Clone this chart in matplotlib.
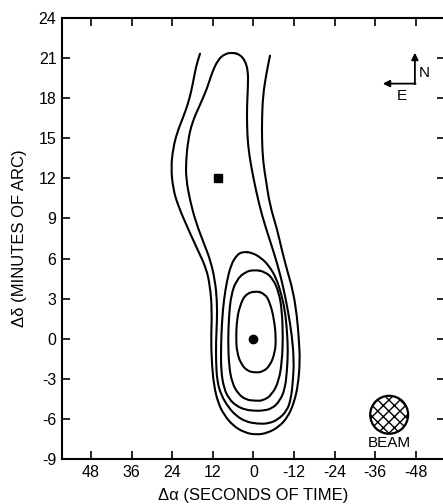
import numpy as np
import matplotlib
matplotlib.use('Agg')
from matplotlib import pyplot as plt
from matplotlib.patches import Ellipse, PathPatch
from matplotlib.path import Path

plt.rcParams['font.family'] = ['Liberation Sans', 'DejaVu Sans']
plt.rcParams['axes.unicode_minus'] = False
plt.rcParams['hatch.linewidth'] = 1.0

# contour lines traced from the map, (delta alpha [s], delta delta [arcmin])
# outermost contour, open at the top
c1_x = [15.81, 17.00, 17.87, 19.05, 20.83, 22.60, 23.78, 24.37, 23.78, 22.30,
        19.35, 16.40, 14.03, 12.85, 12.26, 12.56, 12.26, 11.67, 10.49, 8.71,
        6.06, 2.51, -1.03, -4.28, -7.53, -10.19, -11.96, -13.15, -13.74, -13.44,
        -12.85, -11.67, -9.90, -8.42, -6.94, -4.87, -3.69, -2.81, -2.51, -2.51,
        -2.81, -3.69, -4.87]
c1_y = [21.33, 20.36, 19.16, 17.81, 16.54, 15.42, 14.22, 12.80, 11.23, 9.96,
        8.23, 6.59, 5.31, 3.97, 2.10, -0.15, -2.02, -3.52, -4.79, -5.69,
        -6.51, -7.04, -7.19, -7.04, -6.59, -5.84, -4.79, -3.52, -1.65, -0.15,
        1.72, 3.59, 5.16, 6.59, 8.23, 9.96, 11.83, 13.32, 14.82, 16.54,
        18.19, 19.69, 21.18]

c2_x = [6.06, 3.99, 2.51, 1.62, 1.62, 1.92, 1.92, 1.62, 0.74, -0.74,
        -2.51, -4.87, -6.94, -8.71, -10.19, -11.37, -11.96, -11.67, -11.08, -9.90,
        -7.24, -4.28, -1.03, 2.22, 5.17, 7.53, 9.60, 10.78, 11.08, 11.08,
        10.78, 10.78, 11.37, 12.70, 14.62, 16.99, 18.76, 19.94, 19.94, 19.35,
        18.17, 15.81, 13.74, 12.26, 10.49, 8.42]
c2_y = [21.41, 21.26, 20.81, 20.06, 18.94, 17.44, 15.94, 14.45, 12.95, 11.08,
        9.21, 7.34, 5.69, 3.97, 2.10, 0.22, -1.65, -3.14, -4.49, -5.39,
        -6.06, -6.36, -6.36, -6.21, -5.76, -5.09, -4.19, -3.14, -1.65, -0.15,
        1.35, 2.84, 4.34, 5.84, 7.11, 8.68, 10.33, 11.98, 13.32, 14.82,
        16.17, 17.51, 18.71, 19.91, 20.88, 21.33]

c3_x = [3.10, 0.44, -2.22, -4.58, -6.65, -8.12, -9.31, -9.90, -10.19, -9.90,
        -9.31, -7.83, -5.47, -2.51, -0.15, 2.51, 5.17, 7.24, 8.71, 9.60,
        9.60, 9.31, 8.71, 7.83, 6.65, 4.87]
c3_y = [6.51, 6.44, 6.06, 5.46, 4.57, 3.44, 2.10, 0.60, -0.90, -2.40,
        -3.74, -4.64, -5.24, -5.39, -5.39, -5.31, -5.01, -4.49, -3.74, -2.40,
        -0.52, 1.35, 2.99, 4.34, 5.54, 6.29]

c4_x = [-0.44, -3.40, -5.76, -7.53, -8.42, -8.71, -8.42, -7.53, -5.47, -2.81,
        -0.44, 2.22, 4.58, 6.35, 7.24, 7.53, 7.24, 6.65, 5.17, 2.51]
c4_y = [5.16, 5.01, 4.49, 3.44, 2.10, 0.07, -1.65, -3.14, -4.19, -4.64,
        -4.64, -4.57, -4.12, -3.29, -2.02, -0.15, 1.72, 3.22, 4.34, 5.01]

c5_x = [-0.44, -3.40, -4.87, -6.06, -6.65, -6.35, -4.87, -2.81, -0.44, 1.92,
        3.69, 4.87, 5.17, 4.87, 3.99, 2.51]
c5_y = [3.59, 3.37, 2.69, 1.50, 0.07, -1.05, -2.02, -2.47, -2.54, -2.40,
        -1.87, -1.05, 0.07, 1.50, 2.47, 3.29]

# (x, y, closed)
contours = [(c1_x, c1_y, False), (c2_x, c2_y, True), (c3_x, c3_y, True),
            (c4_x, c4_y, True), (c5_x, c5_y, True)]

# source positions
dot_x, dot_y = [0.0], [0.0]
square_x, square_y = [10.4], [12.0]

xticks = [48, 36, 24, 12, 0, -12, -24, -36, -48]
yticks = [-9, -6, -3, 0, 3, 6, 9, 12, 15, 18, 21, 24]


def smooth_path(xs, ys, closed):
    # quadratic bezier through midpoints, traced points act as control points
    pts = np.column_stack([xs, ys])
    if closed:
        pts = np.vstack([pts, pts[:2]])
        mids = (pts[:-1] + pts[1:]) / 2
        verts = [mids[0]]
        codes = [Path.MOVETO]
        for i in range(1, len(pts) - 1):
            verts += [pts[i], mids[i]]
            codes += [Path.CURVE3, Path.CURVE3]
    else:
        mids = (pts[:-1] + pts[1:]) / 2
        verts = [pts[0], mids[0]]
        codes = [Path.MOVETO, Path.LINETO]
        for i in range(1, len(pts) - 1):
            verts += [pts[i], mids[i]]
            codes += [Path.CURVE3, Path.CURVE3]
        verts.append(pts[-1])
        codes.append(Path.LINETO)
    return Path(verts, codes)


fig = plt.figure(figsize=(4.43, 5.04), dpi=100)
ax = fig.add_axes([62 / 443, 45 / 504, 383 / 443, 441 / 504])

for cx, cy, closed in contours:
    ax.add_patch(PathPatch(smooth_path(cx, cy, closed), facecolor='none',
                           edgecolor='black', linewidth=1.5, capstyle='round'))

ax.plot(dot_x, dot_y, 'o', color='black', markersize=6)
ax.plot(square_x, square_y, 's', color='black', markersize=5.5)

# north / east arrows
ax.annotate('', xy=(-47.7, 21.4), xytext=(-47.7, 19.05),
            arrowprops=dict(arrowstyle='-|>', color='black', lw=1.3,
                            mutation_scale=10, shrinkA=0, shrinkB=0))
ax.annotate('', xy=(-38.2, 19.09), xytext=(-47.9, 19.09),
            arrowprops=dict(arrowstyle='-|>', color='black', lw=1.3,
                            mutation_scale=10, shrinkA=0, shrinkB=0))
ax.text(-50.4, 19.9, 'N', fontsize=11, ha='center', va='center')
ax.text(-43.9, 18.2, 'E', fontsize=11, ha='center', va='center')

# beam
beam = Ellipse((-40.1, -5.69), width=11.2, height=2.84, facecolor='white',
               edgecolor='black', linewidth=1.6, hatch='xxx')
ax.add_patch(beam)
ax.text(-40.0, -7.78, 'BEAM', fontsize=11, ha='center', va='center')

ax.set_xlim(56.6, -56.6)
ax.set_ylim(-9, 24)
ax.set_xticks(xticks)
ax.set_yticks(yticks)
ax.tick_params(direction='in', length=6, width=1.2, top=True, right=True,
               labelsize=11.5, pad=4)
for s in ax.spines.values():
    s.set_linewidth(1.5)

ax.set_xlabel('Δα (SECONDS OF TIME)', fontsize=12, labelpad=6)
ax.set_ylabel('Δδ (MINUTES OF ARC)', fontsize=12, labelpad=8)

fig.savefig('out.png', dpi=100)
